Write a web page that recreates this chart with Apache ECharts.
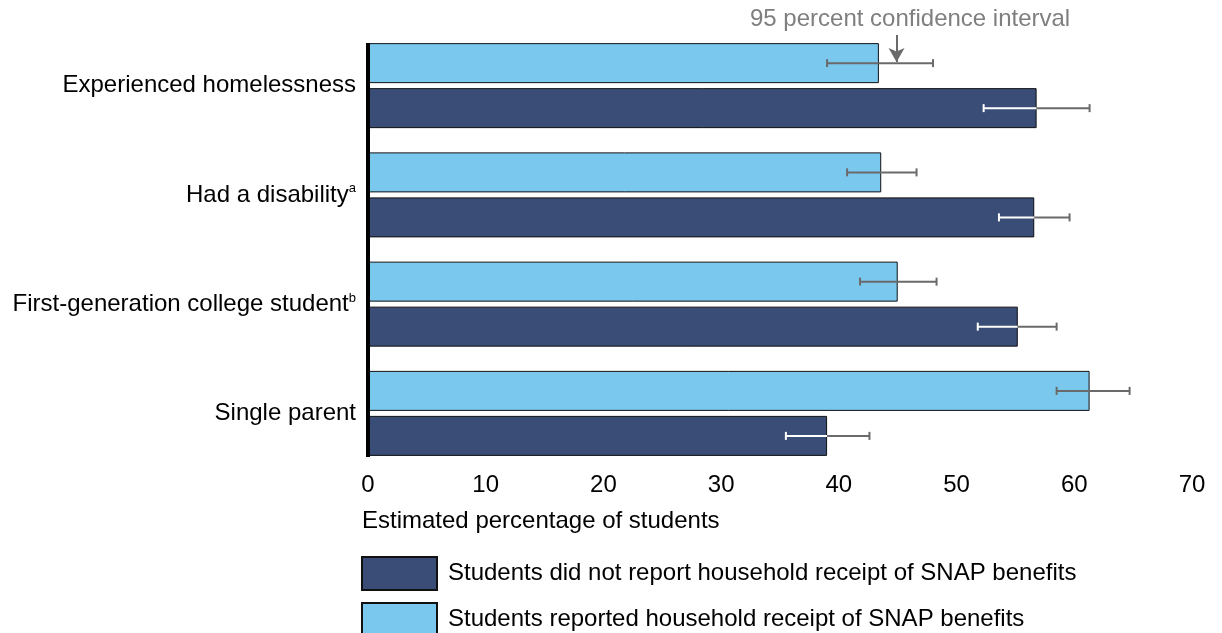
<!DOCTYPE html>
<html>
<head>
<meta charset="utf-8">
<script src="https://cdn.jsdelivr.net/npm/echarts@6/dist/echarts.min.js"></script>
<style>html,body{margin:0;padding:0;background:#fff}#c{width:1222px;height:633px}</style>
</head>
<body>
<div id="c"></div>
<script>
var categories = ['Experienced homelessness', 'Had a disability', 'First-generation college student', 'Single parent'];
var superscripts = ['', 'a', 'b', ''];
var reportedName = 'Students reported household receipt of SNAP benefits';
var notReportedName = 'Students did not report household receipt of SNAP benefits';
var reportedValues = [43.4, 43.6, 45.0, 61.3];
var reportedLow = [39.0, 40.7, 41.8, 58.5];
var reportedHigh = [48.0, 46.6, 48.3, 64.7];
var notReportedValues = [56.8, 56.6, 55.2, 39.0];
var notReportedLow = [52.3, 53.6, 51.8, 35.5];
var notReportedHigh = [61.3, 59.6, 58.5, 42.6];
var xTicks = [0, 10, 20, 30, 40, 50, 60, 70];
var annotationValue = 44.9;

var FONT = 'Liberation Sans, Arial, sans-serif';
var DARK = '#3a4d77', LIGHT = '#7bc8ee', GRAY = '#6a6a6a';
var BAR_W = 40, BAR_GAP = 5;

function errData(low, high, vals) {
  return categories.map(function (c, i) { return [i, low[i], high[i], vals[i]]; });
}
function makeErr(offset, insideColor) {
  return function (params, api) {
    var cat = api.value(0), lo = api.value(1), hi = api.value(2), v = api.value(3);
    var pLo = api.coord([lo, cat]), pHi = api.coord([hi, cat]), pV = api.coord([v, cat]);
    var y = pLo[1] + offset;
    var cap = 4;
    return {type: 'group', children: [
      {type: 'line', shape: {x1: pLo[0], y1: y, x2: pV[0], y2: y}, style: {stroke: insideColor, lineWidth: 2}},
      {type: 'line', shape: {x1: pV[0], y1: y, x2: pHi[0], y2: y}, style: {stroke: GRAY, lineWidth: 2}},
      {type: 'line', shape: {x1: pLo[0], y1: y - cap, x2: pLo[0], y2: y + cap}, style: {stroke: insideColor, lineWidth: 2}},
      {type: 'line', shape: {x1: pHi[0], y1: y - cap, x2: pHi[0], y2: y + cap}, style: {stroke: GRAY, lineWidth: 2}}
    ]};
  };
}

var chart = echarts.init(document.getElementById('c'));
var off = (BAR_W + BAR_GAP) / 2;
var legendBase = {
  orient: 'vertical', left: 361, padding: 0, itemWidth: 75, itemHeight: 33, icon: 'rect', selectedMode: false,
  textStyle: {fontSize: 24, color: '#000', fontFamily: FONT, padding: [0, 0, 0, 6]}
};
chart.setOption({
  animation: false,
  textStyle: {fontFamily: FONT},
  grid: {left: 368, right: 30, top: 31, height: 437, containLabel: false},
  title: {
    text: 'Estimated percentage of students', left: 362, top: 509, padding: 0,
    textStyle: {fontSize: 24, fontWeight: 'normal', color: '#000', fontFamily: FONT}
  },
  legend: [
    Object.assign({}, legendBase, {top: 556, data: [notReportedName]}),
    Object.assign({}, legendBase, {top: 602, data: [reportedName]})
  ],
  xAxis: {
    type: 'value', min: xTicks[0], max: xTicks[xTicks.length - 1], interval: 10,
    axisLine: {show: false}, axisTick: {show: false}, splitLine: {show: false},
    axisLabel: {fontSize: 24, color: '#000', margin: 5, fontFamily: FONT}
  },
  yAxis: {
    type: 'category', data: categories, inverse: true,
    axisLine: {show: false},
    axisTick: {show: false},
    axisLabel: {
      fontSize: 24, color: '#000', margin: 12, fontFamily: FONT,
      formatter: function (v) {
        var s = superscripts[categories.indexOf(v)];
        return s ? v + '{sup|' + s + '}' : v;
      },
      rich: {sup: {fontSize: 13, color: '#000', fontFamily: FONT, padding: [0, 0, 12, 0]}}
    }
  },
  graphic: [
    {type: 'text', left: 750, top: 7, style: {text: '95 percent confidence interval', fontSize: 24, fill: '#7f7f7f', fontFamily: FONT}}
  ],
  series: [
    {
      name: reportedName, type: 'bar', data: reportedValues, barWidth: BAR_W, barGap: (BAR_GAP / BAR_W * 100) + '%',
      itemStyle: {color: LIGHT, borderColor: '#111', borderWidth: 1},
      markLine: {
        silent: true, symbol: ['none', 'arrow'], symbolSize: [12, 14],
        lineStyle: {color: GRAY, width: 2, type: 'solid'}, label: {show: false},
        data: [[{coord: [annotationValue, 0], y: 35}, {coord: [annotationValue, 0], y: 62}]]
      }
    },
    {
      name: notReportedName, type: 'bar', data: notReportedValues, barWidth: BAR_W,
      itemStyle: {color: DARK, borderColor: '#111', borderWidth: 1},
      markLine: {
        silent: true, symbol: ['none', 'none'], z: 10,
        lineStyle: {color: '#000', width: 4, type: 'solid'}, label: {show: false},
        data: [[{coord: [0, 0], y: 43}, {coord: [0, categories.length - 1], y: 457}]]
      }
    },
    {type: 'custom', renderItem: makeErr(-off, GRAY), data: errData(reportedLow, reportedHigh, reportedValues), z: 5, silent: true},
    {type: 'custom', renderItem: makeErr(off, '#ffffff'), data: errData(notReportedLow, notReportedHigh, notReportedValues), z: 5, silent: true}
  ]
});
</script>
</body>
</html>
